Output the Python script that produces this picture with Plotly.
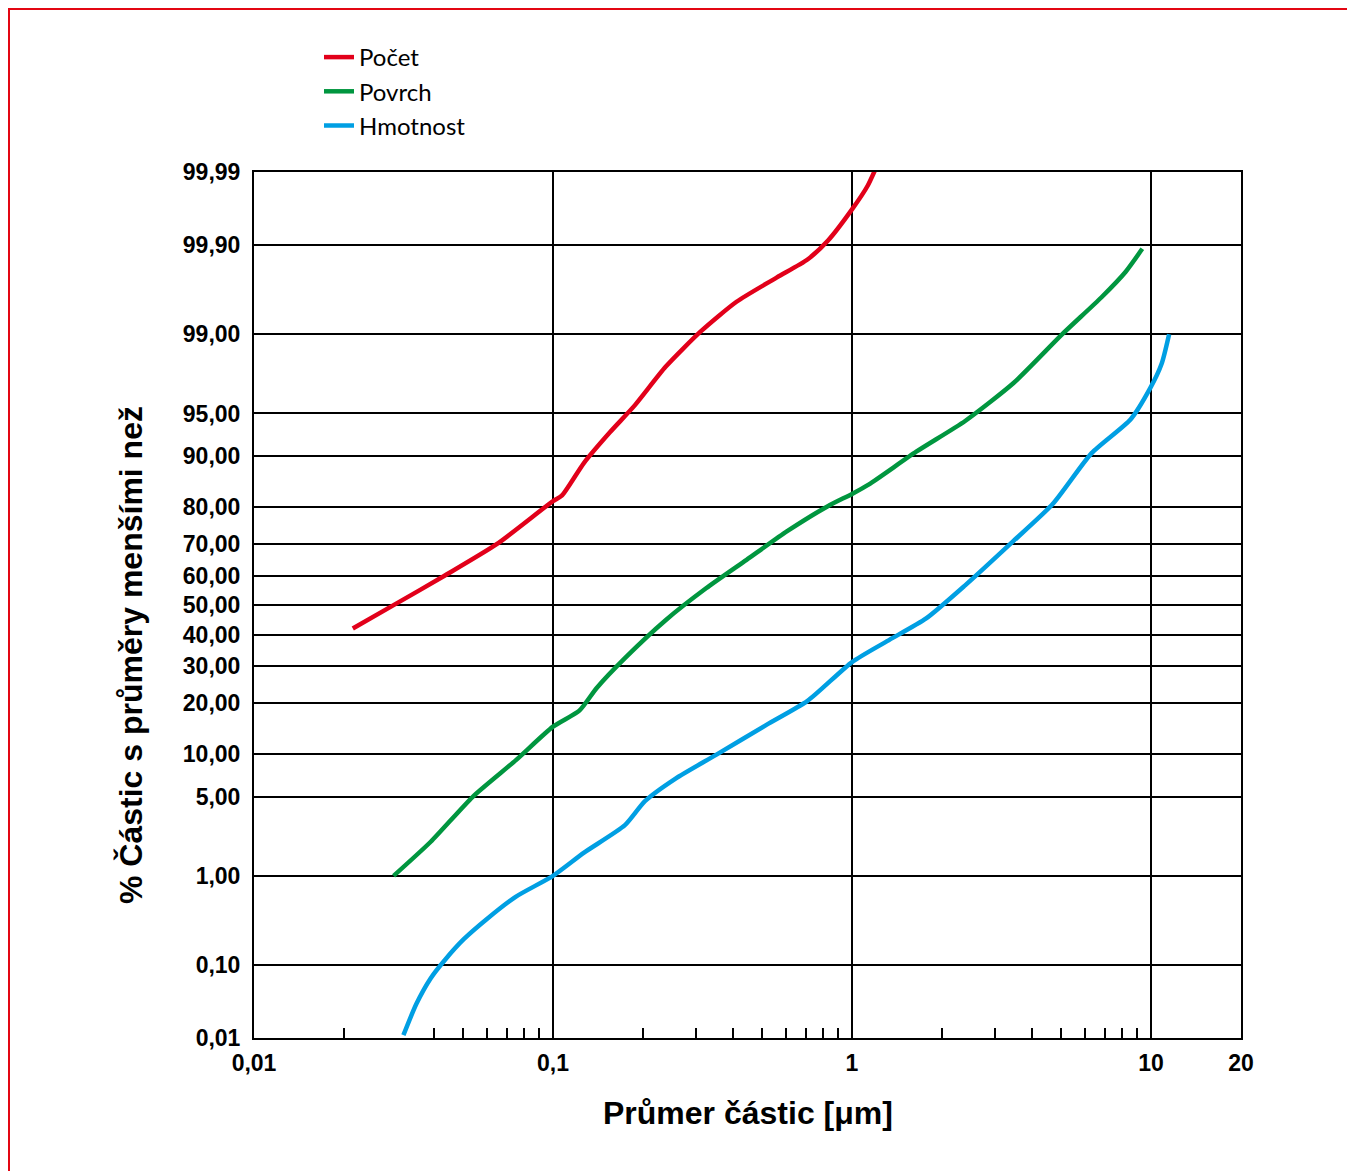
import plotly.graph_objects as go
from statistics import NormalDist
import math

# ---- data (particle diameter in µm, cumulative % smaller than) ----
pocet_x = [0.0214, 0.029, 0.0435, 0.065, 0.1, 0.107, 0.127, 0.155, 0.188, 0.238,
           0.312, 0.411, 0.561, 0.71, 0.83, 1.0, 1.127, 1.24]
pocet_y = [42.0, 49.7, 60.0, 70.0, 81.4, 82.6, 88.9, 93.1, 95.7, 97.96,
           99.06, 99.54, 99.755, 99.85, 99.912, 99.966, 99.984, 99.9936]

povrch_x = [0.0293, 0.039, 0.054, 0.075, 0.1, 0.1225, 0.14, 0.174, 0.238, 0.325,
            0.444, 0.607, 0.83, 1.0, 1.14, 1.64, 2.39, 3.47, 5.05, 6.82, 8.23, 9.35]
povrch_y = [1.0, 2.1, 5.0, 9.1, 14.8, 18.2, 23.8, 32.4, 44.8, 55.7,
            65.1, 73.7, 80.2, 83.0, 85.0, 90.6, 94.3, 97.17, 99.0, 99.587, 99.79, 99.889]

hmotnost_x = [0.0316, 0.0349, 0.039, 0.0435, 0.0503, 0.0604, 0.075, 0.1, 0.127, 0.174,
              0.203, 0.257, 0.351, 0.519, 0.71, 1.0, 1.31, 1.77, 2.39, 3.47,
              4.69, 6.33, 8.54, 9.93, 10.86, 11.5]
hmotnost_y = [0.011, 0.0305, 0.0675, 0.115, 0.205, 0.355, 0.61, 1.0, 1.67, 2.93,
              4.6, 6.8, 9.9, 15.2, 20.5, 31.2, 37.8, 45.4, 56.7, 70.9,
              80.7, 90.4, 94.45, 96.86, 98.1, 99.0]

series_names = ["Počet", "Povrch", "Hmotnost"]
series_colors = ["#e2001a", "#00963f", "#009fe3"]

y_tick_values = [0.01, 0.1, 1, 5, 10, 20, 30, 40, 50, 60, 70, 80, 90, 95, 99, 99.9, 99.99]
y_tick_labels = ["0,01", "0,10", "1,00", "5,00", "10,00", "20,00", "30,00", "40,00",
                 "50,00", "60,00", "70,00", "80,00", "90,00", "95,00", "99,00",
                 "99,90", "99,99"]
x_tick_values = [0.01, 0.1, 1, 10, 20]
x_tick_labels = ["0,01", "0,1", "1", "10", "20"]
x_minor_values = [0.02, 0.04, 0.05, 0.06, 0.07, 0.08, 0.09,
                  0.2, 0.3, 0.4, 0.5, 0.6, 0.7, 0.8, 0.9,
                  2, 3, 4, 5, 6, 7, 8, 9]

# ---- probability (normal) scale for y ----
nd = NormalDist()
def probit(p):
    return nd.inv_cdf(p / 100.0)

fig = go.Figure()
for name, color, xs, ys in zip(series_names, series_colors,
                               [pocet_x, povrch_x, hmotnost_x],
                               [pocet_y, povrch_y, hmotnost_y]):
    fig.add_trace(go.Scatter(
        x=xs, y=[probit(v) for v in ys], mode="lines", name=name,
        line=dict(color=color, width=4.5, shape="spline", smoothing=0.6),
        customdata=ys, hovertemplate="%{x} µm: %{customdata} %<extra></extra>"))

# page body has an 8px margin; figure coordinates are screenshot - 8
OFF = 8
W, H = 1355 - OFF, 1171 - OFF
L, R, T, B = 254 - OFF, 1241 - OFF, 172 - OFF, 1038 - OFF
pw, ph = R - L, B - T
def px(x):
    return (x - OFF - L) / pw
def py(y):
    return (B - (y - OFF)) / ph

tick_font = dict(family="Liberation Sans, Arial, sans-serif", size=23,
                 color="black", weight="bold")
title_font = dict(family="Liberation Sans, Arial, sans-serif", size=32,
                  color="black", weight="bold")

fig.update_layout(
    width=W, height=H,
    margin=dict(l=L, r=W - R, t=T, b=H - B, pad=0),
    paper_bgcolor="white", plot_bgcolor="white",
    showlegend=True,
    legend=dict(x=px(319), y=py(35), xanchor="left", yanchor="top",
                font=dict(family="Lato, Open Sans, sans-serif", size=24, color="black"),
                bgcolor="rgba(0,0,0,0)", itemwidth=30, tracegroupgap=0),
    xaxis=dict(type="log", range=[math.log10(0.01), math.log10(20)],
               tickmode="array", tickvals=x_tick_values, ticktext=x_tick_labels,
               ticks="", tickfont=tick_font, ticklabelstandoff=3,
               showgrid=True, gridcolor="black", gridwidth=1.5,
               showline=True, linecolor="black", linewidth=2, mirror=True,
               zeroline=False,
               minor=dict(tickmode="array", tickvals=x_minor_values, ticks="inside",
                          ticklen=10, tickwidth=1.5, tickcolor="black", showgrid=False)),
    yaxis=dict(range=[probit(0.01), probit(99.99)],
               tickmode="array", tickvals=[probit(v) for v in y_tick_values],
               ticktext=y_tick_labels, ticks="", tickfont=tick_font,
               ticklabelstandoff=7,
               showgrid=True, gridcolor="black", gridwidth=1.5,
               showline=True, linecolor="black", linewidth=2, mirror=True,
               zeroline=False),
    annotations=[
        dict(text="% Částic s průměry menšími než", xref="paper", yref="paper",
             x=px(131), y=py(655), textangle=-90, showarrow=False,
             xanchor="center", yanchor="middle", font=title_font),
        dict(text="Průmer částic [μm]", xref="paper", yref="paper",
             x=px(748), y=py(1113), showarrow=False,
             xanchor="center", yanchor="middle", font=title_font),
    ],
    shapes=[
        dict(type="line", xref="paper", yref="paper", x0=px(7), y0=py(8.5),
             x1=px(1370), y1=py(8.5), line=dict(color="#e30613", width=3)),
        dict(type="line", xref="paper", yref="paper", x0=px(8.5), y0=py(7),
             x1=px(8.5), y1=py(1190), line=dict(color="#e30613", width=3)),
    ],
)

fig.write_html("out.html")
